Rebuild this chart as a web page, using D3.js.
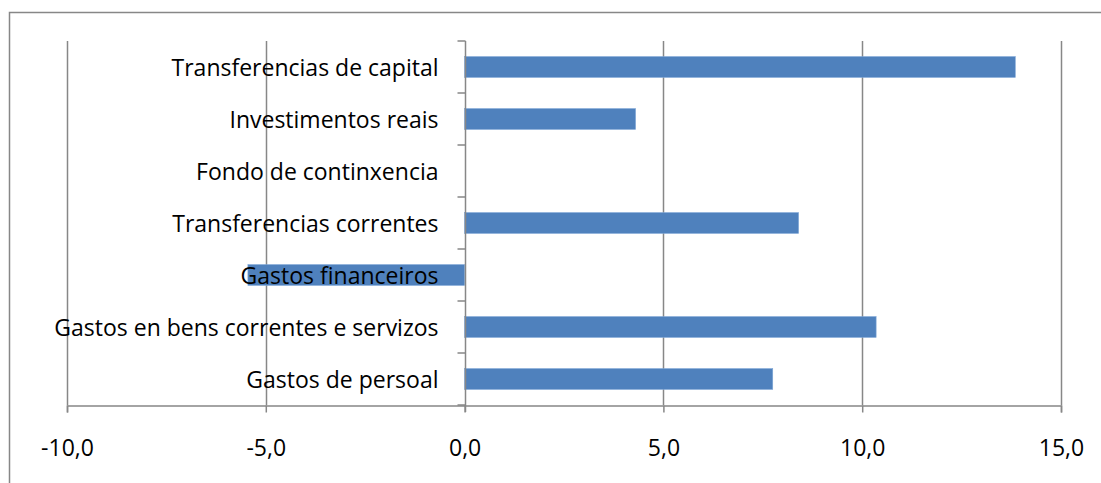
<!DOCTYPE html>
<html>
<head>
<meta charset="utf-8">
<script src="https://cdn.jsdelivr.net/npm/d3@7"></script>
<style>
  body { margin: 0; background: #fff; }
  svg text { font-family: 'Open Sans', Lato, sans-serif; fill: #000; }
</style>
</head>
<body>
<svg width="1101" height="483"></svg>
<script>
// categories from top to bottom, as drawn
const categories = [
  'Transferencias de capital',
  'Investimentos reais',
  'Fondo de continxencia',
  'Transferencias correntes',
  'Gastos financeiros',
  'Gastos en bens correntes e servizos',
  'Gastos de persoal'
]
const values = [13.85, 4.3, 0, 8.4, -5.45, 10.35, 7.75]
const xTicks = [-10, -5, 0, 5, 10, 15]
const xTickLabels = ['-10,0', '-5,0', '0,0', '5,0', '10,0', '15,0']

let svg = d3.select('svg')
let plot = { left: 67, right: 1061, top: 41, bottom: 405 }
const gridColor = '#878787'
const fontSize = '23px'

// outer chart border (only top and left edges fall inside the picture)
svg.append('path')
  .attr('d', 'M9.5,483 V12.5 H1101')
  .attr('fill', 'none')
  .attr('stroke', gridColor)
  .attr('stroke-width', 1.5)

let x = d3.scaleLinear().domain([-10, 15]).range([plot.left, plot.right])
let y = d3.scaleBand()
  .domain(categories)
  .range([plot.top, plot.bottom])
  .paddingInner(0.6)
  .paddingOuter(0.3)

// vertical gridlines
svg.append('g')
  .selectAll('line')
  .data(xTicks.filter(d => d !== 0))
  .enter()
  .append('line')
  .attr('x1', d => Math.round(x(d)) + 0.5)
  .attr('x2', d => Math.round(x(d)) + 0.5)
  .attr('y1', plot.top)
  .attr('y2', plot.bottom)
  .attr('stroke', gridColor)
  .attr('stroke-width', 1.5)

// bars
svg.append('g')
  .selectAll('rect')
  .data(values)
  .enter()
  .append('rect')
  .attr('x', d => x(Math.min(0, d)))
  .attr('y', (d, i) => y(categories[i]))
  .attr('width', d => Math.abs(x(d) - x(0)))
  .attr('height', y.bandwidth())
  .attr('fill', '#4f81bd')
  .attr('stroke', '#7ea6d6')
  .attr('stroke-width', 0.6)

// x axis
let xAxis = svg.append('g')
  .attr('transform', 'translate(0,' + (plot.bottom + 0.5) + ')')
  .call(d3.axisBottom(x)
    .tickValues(xTicks)
    .tickSize(7)
    .tickFormat((d, i) => xTickLabels[i]))
xAxis.select('.domain').attr('stroke', gridColor).attr('stroke-width', 1.5)
xAxis.selectAll('.tick line').attr('stroke', gridColor).attr('stroke-width', 1.5)
xAxis.selectAll('text')
  .style('font-size', fontSize)
  .attr('y', 50)
  .attr('dy', 0)

// y axis at zero, with ticks on category boundaries
let x0 = Math.round(x(0)) + 0.5
let gap = (y.step() - y.bandwidth()) / 2
let bounds = categories.map(c => y(c) - gap).concat([plot.bottom])
let yAxis = svg.append('g')
yAxis.append('line')
  .attr('x1', x0).attr('x2', x0)
  .attr('y1', plot.top).attr('y2', plot.bottom + 7)
  .attr('stroke', gridColor).attr('stroke-width', 1.5)
yAxis.selectAll('.tk')
  .data(bounds)
  .enter()
  .append('line')
  .attr('class', 'tk')
  .attr('x1', x0 - 8).attr('x2', x0)
  .attr('y1', d => d).attr('y2', d => d)
  .attr('stroke', gridColor).attr('stroke-width', 1.5)

let yLabels = svg.append('g')
  .attr('transform', 'translate(' + x0 + ',0)')
  .call(d3.axisLeft(y).tickSize(0).tickPadding(27))
yLabels.select('.domain').remove()
yLabels.selectAll('text').style('font-size', fontSize).attr('dy', '0.38em')
</script>
</body>
</html>
